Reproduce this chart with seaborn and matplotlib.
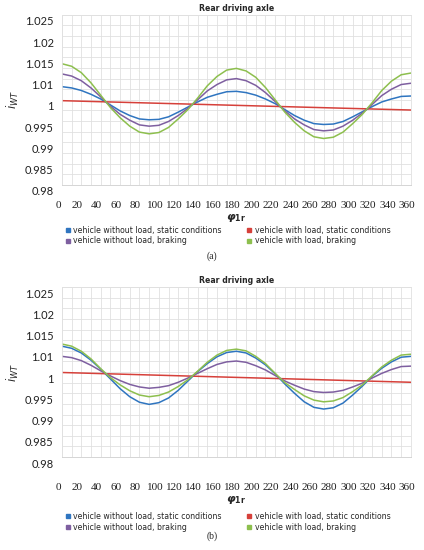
import matplotlib
matplotlib.use('Agg')
import matplotlib.pyplot as plt
import matplotlib.transforms as mtransforms
from matplotlib.lines import Line2D
from matplotlib.ticker import MultipleLocator
import seaborn as sns

# угол, град
phi = list(range(0, 361, 10))

# (a) - значения
a_unloaded_static = [1.0031, 1.0028, 1.0022, 1.0013, 1.0002, 0.9988, 0.9974, 0.9963, 0.9955, 0.9953,
                     0.9954, 0.9960, 0.9971, 0.9983, 0.9995, 1.0006, 1.0013, 1.0019, 1.0020,
                     1.0017, 1.0011, 1.0002, 0.9991, 0.9977, 0.9963, 0.9952, 0.9944, 0.9942,
                     0.9943, 0.9949, 0.9960, 0.9972, 0.9984, 0.9995, 1.0002, 1.0008, 1.0009]
a_unloaded_braking = [1.0061, 1.0056, 1.0045, 1.0028, 1.0007, 0.9985, 0.9966, 0.9952, 0.9941, 0.9938,
                      0.9940, 0.9949, 0.9963, 0.9980, 1.0000, 1.0021, 1.0036, 1.0047, 1.0050,
                      1.0045, 1.0034, 1.0017, 0.9996, 0.9974, 0.9955, 0.9941, 0.9930, 0.9927,
                      0.9929, 0.9938, 0.9952, 0.9969, 0.9989, 1.0010, 1.0025, 1.0036, 1.0039]
a_loaded_braking = [1.0085, 1.0079, 1.0064, 1.0040, 1.0011, 0.9982, 0.9958, 0.9938, 0.9924, 0.9920,
                    0.9923, 0.9935, 0.9955, 0.9977, 1.0004, 1.0033, 1.0055, 1.0070, 1.0074,
                    1.0068, 1.0053, 1.0029, 1.0000, 0.9971, 0.9947, 0.9927, 0.9913, 0.9909,
                    0.9912, 0.9924, 0.9944, 0.9966, 0.9993, 1.0022, 1.0044, 1.0059, 1.0063]
a_loaded_static_phi = [0, 360]
a_loaded_static = [0.9998, 0.9976]

# (b)
b_unloaded_static = [1.0061, 1.0056, 1.0045, 1.0028, 1.0007, 0.9984, 0.9961, 0.9942, 0.9929, 0.9924,
                     0.9928, 0.9939, 0.9957, 0.9979, 1.0001, 1.0020, 1.0036, 1.0046, 1.0049,
                     1.0045, 1.0033, 1.0017, 0.9996, 0.9972, 0.9950, 0.9930, 0.9917, 0.9913,
                     0.9916, 0.9927, 0.9946, 0.9967, 0.9990, 1.0009, 1.0024, 1.0035, 1.0037]
b_unloaded_braking = [1.0037, 1.0034, 1.0027, 1.0016, 1.0003, 0.9991, 0.9980, 0.9971, 0.9965, 0.9962,
                      0.9964, 0.9968, 0.9976, 0.9986, 0.9997, 1.0008, 1.0018, 1.0024, 1.0026,
                      1.0023, 1.0015, 1.0005, 0.9992, 0.9979, 0.9969, 0.9960, 0.9954, 0.9952,
                      0.9953, 0.9957, 0.9965, 0.9974, 0.9986, 0.9997, 1.0006, 1.0013, 1.0014]
b_loaded_braking = [1.0066, 1.0061, 1.0049, 1.0031, 1.0008, 0.9987, 0.9970, 0.9956, 0.9946, 0.9942,
                    0.9945, 0.9953, 0.9966, 0.9982, 1.0002, 1.0023, 1.0040, 1.0051, 1.0054,
                    1.0050, 1.0037, 1.0020, 0.9997, 0.9975, 0.9959, 0.9944, 0.9934, 0.9930,
                    0.9932, 0.9940, 0.9954, 0.9970, 0.9991, 1.0012, 1.0028, 1.0040, 1.0042]
b_loaded_static_phi = [0, 360]
b_loaded_static = [0.9999, 0.9976]

labels = ['vehicle without load, static conditions', 'vehicle with load, static conditions',
          'vehicle without load, braking', 'vehicle with load, braking']
colors = ['#2F75C0', '#D6403A', '#7E5FA0', '#8DBF4E']
# подписи оси Y, как в исходной диаграмме Excel
y_ticks = [0.98, 0.985, 0.99, 0.995, 1.0, 1.005, 1.01, 1.015, 1.02]
y_tick_labels = ['0.98', '0.985', '0.99', '0.995', '1', '1.01', '1.015', '1.02', '1.025']
x_ticks = list(range(0, 361, 20))

sns.set_style('white')
plt.rcParams['mathtext.fontset'] = 'dejavusans'

fig = plt.figure(figsize=(4.24, 5.5), dpi=100)


def draw_panel(ax, series, static_phi, static_vals, tag, xpad, legend_y, tag_y):
    us, ub, lb = series
    sns.lineplot(x=phi, y=us, ax=ax, color=colors[0], lw=1.1)
    sns.lineplot(x=static_phi, y=static_vals, ax=ax, color=colors[1], lw=1.1)
    sns.lineplot(x=phi, y=ub, ax=ax, color=colors[2], lw=1.1)
    sns.lineplot(x=phi, y=lb, ax=ax, color=colors[3], lw=1.1)

    ax.set_xlim(0, 360)
    ax.set_ylim(0.98, 1.02)
    ax.set_yticks(y_ticks)
    ax.set_yticklabels(y_tick_labels, fontfamily='Lato', fontsize=8, color='#202020')
    ax.yaxis.set_minor_locator(MultipleLocator(0.0025))
    ax.set_xticks(x_ticks)
    ax.set_xticklabels([str(v) for v in x_ticks], fontfamily='Liberation Serif', fontsize=8, color='#202020')
    ax.xaxis.set_minor_locator(MultipleLocator(10))
    ax.grid(True, which='both', color='#E0E0E0', lw=0.6)
    ax.tick_params(axis='both', which='both', length=0)
    ax.tick_params(axis='x', pad=xpad)
    ax.tick_params(axis='y', pad=6)
    for s in ax.spines.values():
        s.set_color('#E0E0E0')
        s.set_linewidth(0.6)
    ax.spines['bottom'].set_color('#CFCFCF')

    # сдвиг подписей как в объемной диаграмме
    ydown = mtransforms.ScaledTranslation(0, -6 / 100, fig.dpi_scale_trans)
    for lab in ax.get_yticklabels():
        lab.set_transform(lab.get_transform() + ydown)
    xleft = mtransforms.ScaledTranslation(-4 / 100, 0, fig.dpi_scale_trans)
    for lab in ax.get_xticklabels():
        lab.set_transform(lab.get_transform() + xleft)

    ax.set_title('Rear driving axle', fontsize=5.6, fontweight='bold', pad=3)
    ax.set_ylabel(r'$i_{WT}$', fontsize=8.5, labelpad=3)
    ax.set_xlabel(r'$\mathbfit{\varphi}_{\mathbf{1r}}$', fontsize=8, labelpad=1)

    handles = [Line2D([], [], ls='', marker='s', markersize=3.5, color=c) for c in colors]
    order = [0, 2, 1, 3]
    ax.legend([handles[i] for i in order], [labels[i] for i in order],
              loc='upper left', bbox_to_anchor=(0.155, legend_y), bbox_transform=fig.transFigure,
              ncol=2, frameon=False, handlelength=0.6, columnspacing=3.2,
              labelspacing=0.25, handletextpad=0.4, borderaxespad=0, borderpad=0,
              prop={'family': 'DejaVu Sans', 'size': 5.6})
    fig.text(0.5, tag_y, tag, ha='center', va='center', fontfamily='Liberation Serif', fontsize=7)


ax1 = fig.add_axes([0.146, 0.664, 0.823, 0.309])
draw_panel(ax1, (a_unloaded_static, a_unloaded_braking, a_loaded_braking),
           a_loaded_static_phi, a_loaded_static, '(a)', 12, 0.590, 0.535)

ax2 = fig.add_axes([0.146, 0.169, 0.823, 0.309])
draw_panel(ax2, (b_unloaded_static, b_unloaded_braking, b_loaded_braking),
           b_loaded_static_phi, b_loaded_static, '(b)', 19, 0.069, 0.025)

fig.savefig('out.png', dpi=100)
